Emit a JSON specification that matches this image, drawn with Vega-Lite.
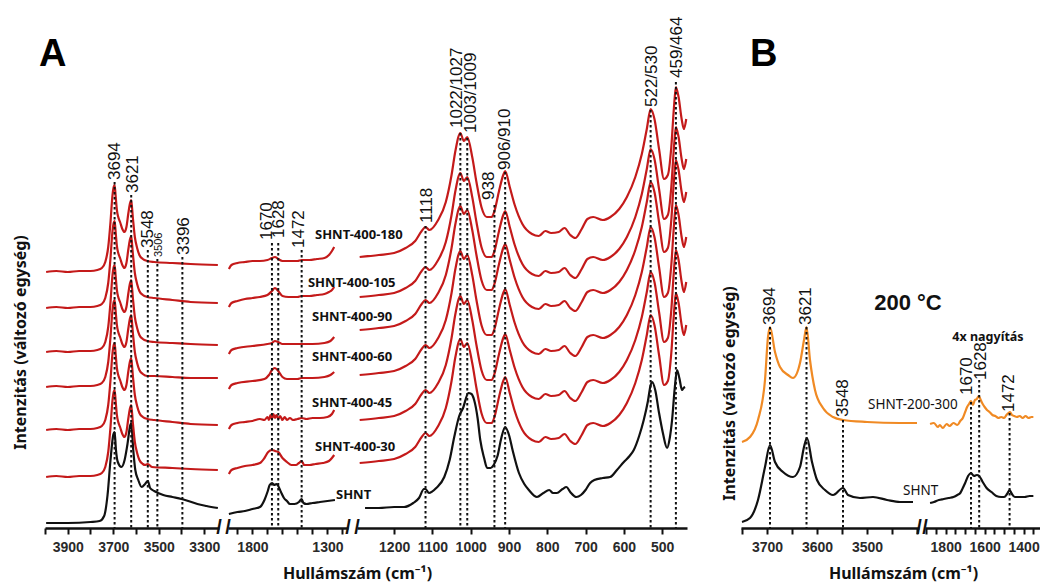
{
  "$schema": "https://vega.github.io/schema/vega-lite/v6.json",
  "background": "white",
  "padding": {"left": 12, "top": 0, "right": 0, "bottom": 2},
  "spacing": 30,
  "config": {
    "view": {"stroke": null},
    "axis": {
      "grid": false,
      "domainColor": "#111111",
      "domainWidth": 2.5,
      "tickColor": "#111111",
      "tickWidth": 2,
      "tickSize": 6,
      "labelFont": "Liberation Sans Narrow, Liberation Sans, Arial",
      "labelFontSize": 14,
      "labelFontWeight": "bold",
      "labelColor": "#2a2a2a",
      "labelPadding": 6,
      "titleFont": "Noto Sans",
      "titleFontSize": 16,
      "titleFontWeight": "bold",
      "titleColor": "#111111"
    }
  },
  "datasets": {
    "A1": [
      {"s":"SHNT","wn":3995,"v":5},{"s":"SHNT","wn":3900,"v":5},{"s":"SHNT","wn":3800,"v":6},{"s":"SHNT","wn":3760,"v":7},{"s":"SHNT","wn":3740,"v":12},{"s":"SHNT","wn":3725,"v":33},{"s":"SHNT","wn":3712,"v":68},{"s":"SHNT","wn":3700,"v":93},{"s":"SHNT","wn":3694,"v":96},{"s":"SHNT","wn":3688,"v":78},{"s":"SHNT","wn":3680,"v":66},{"s":"SHNT","wn":3664,"v":61},{"s":"SHNT","wn":3650,"v":68},{"s":"SHNT","wn":3638,"v":83},{"s":"SHNT","wn":3625,"v":103},{"s":"SHNT","wn":3621,"v":105},{"s":"SHNT","wn":3612,"v":78},{"s":"SHNT","wn":3603,"v":58},{"s":"SHNT","wn":3590,"v":48},{"s":"SHNT","wn":3575,"v":41},{"s":"SHNT","wn":3560,"v":44},{"s":"SHNT","wn":3548,"v":47},{"s":"SHNT","wn":3538,"v":40},{"s":"SHNT","wn":3520,"v":37},{"s":"SHNT","wn":3480,"v":33},{"s":"SHNT","wn":3440,"v":31},{"s":"SHNT","wn":3400,"v":29},{"s":"SHNT","wn":3370,"v":27},{"s":"SHNT","wn":3330,"v":24},{"s":"SHNT","wn":3290,"v":22},{"s":"SHNT","wn":3240,"v":20},

      {"s":"SHNT-400-180","wn":3995,"v":256},{"s":"SHNT-400-180","wn":3950,"v":257},{"s":"SHNT-400-180","wn":3900,"v":256},{"s":"SHNT-400-180","wn":3850,"v":257},{"s":"SHNT-400-180","wn":3800,"v":257},{"s":"SHNT-400-180","wn":3770,"v":258},{"s":"SHNT-400-180","wn":3750,"v":260},{"s":"SHNT-400-180","wn":3735,"v":266},{"s":"SHNT-400-180","wn":3722,"v":281},{"s":"SHNT-400-180","wn":3712,"v":306},{"s":"SHNT-400-180","wn":3704,"v":331},{"s":"SHNT-400-180","wn":3698,"v":341},{"s":"SHNT-400-180","wn":3694,"v":343},{"s":"SHNT-400-180","wn":3689,"v":331},{"s":"SHNT-400-180","wn":3684,"v":318},{"s":"SHNT-400-180","wn":3678,"v":311},{"s":"SHNT-400-180","wn":3670,"v":306},{"s":"SHNT-400-180","wn":3660,"v":299},{"s":"SHNT-400-180","wn":3651,"v":296},{"s":"SHNT-400-180","wn":3642,"v":301},{"s":"SHNT-400-180","wn":3634,"v":314},{"s":"SHNT-400-180","wn":3627,"v":324},{"s":"SHNT-400-180","wn":3621,"v":328},{"s":"SHNT-400-180","wn":3614,"v":311},{"s":"SHNT-400-180","wn":3605,"v":291},{"s":"SHNT-400-180","wn":3595,"v":280},{"s":"SHNT-400-180","wn":3585,"v":273},{"s":"SHNT-400-180","wn":3570,"v":269},{"s":"SHNT-400-180","wn":3550,"v":267},{"s":"SHNT-400-180","wn":3520,"v":266},{"s":"SHNT-400-180","wn":3440,"v":265},{"s":"SHNT-400-180","wn":3360,"v":264},{"s":"SHNT-400-180","wn":3240,"v":263},

      {"s":"SHNT-400-105","wn":3995,"v":220},{"s":"SHNT-400-105","wn":3950,"v":221},{"s":"SHNT-400-105","wn":3900,"v":220},{"s":"SHNT-400-105","wn":3850,"v":221},{"s":"SHNT-400-105","wn":3800,"v":221},{"s":"SHNT-400-105","wn":3770,"v":222},{"s":"SHNT-400-105","wn":3750,"v":224},{"s":"SHNT-400-105","wn":3735,"v":230},{"s":"SHNT-400-105","wn":3722,"v":245},{"s":"SHNT-400-105","wn":3712,"v":270},{"s":"SHNT-400-105","wn":3704,"v":295},{"s":"SHNT-400-105","wn":3698,"v":305},{"s":"SHNT-400-105","wn":3694,"v":307},{"s":"SHNT-400-105","wn":3689,"v":295},{"s":"SHNT-400-105","wn":3684,"v":282},{"s":"SHNT-400-105","wn":3678,"v":275},{"s":"SHNT-400-105","wn":3670,"v":270},{"s":"SHNT-400-105","wn":3660,"v":263},{"s":"SHNT-400-105","wn":3651,"v":260},{"s":"SHNT-400-105","wn":3642,"v":265},{"s":"SHNT-400-105","wn":3634,"v":278},{"s":"SHNT-400-105","wn":3627,"v":288},{"s":"SHNT-400-105","wn":3621,"v":292},{"s":"SHNT-400-105","wn":3614,"v":275},{"s":"SHNT-400-105","wn":3605,"v":255},{"s":"SHNT-400-105","wn":3595,"v":244},{"s":"SHNT-400-105","wn":3585,"v":237},{"s":"SHNT-400-105","wn":3570,"v":233},{"s":"SHNT-400-105","wn":3550,"v":231},{"s":"SHNT-400-105","wn":3520,"v":230},{"s":"SHNT-400-105","wn":3440,"v":228},{"s":"SHNT-400-105","wn":3360,"v":226},{"s":"SHNT-400-105","wn":3240,"v":225},

      {"s":"SHNT-400-90","wn":3995,"v":176},{"s":"SHNT-400-90","wn":3950,"v":177},{"s":"SHNT-400-90","wn":3900,"v":176},{"s":"SHNT-400-90","wn":3850,"v":177},{"s":"SHNT-400-90","wn":3800,"v":177},{"s":"SHNT-400-90","wn":3770,"v":178},{"s":"SHNT-400-90","wn":3750,"v":180},{"s":"SHNT-400-90","wn":3735,"v":186},{"s":"SHNT-400-90","wn":3722,"v":201},{"s":"SHNT-400-90","wn":3712,"v":226},{"s":"SHNT-400-90","wn":3704,"v":251},{"s":"SHNT-400-90","wn":3698,"v":261},{"s":"SHNT-400-90","wn":3694,"v":263},{"s":"SHNT-400-90","wn":3689,"v":251},{"s":"SHNT-400-90","wn":3684,"v":238},{"s":"SHNT-400-90","wn":3678,"v":231},{"s":"SHNT-400-90","wn":3670,"v":226},{"s":"SHNT-400-90","wn":3660,"v":219},{"s":"SHNT-400-90","wn":3651,"v":216},{"s":"SHNT-400-90","wn":3642,"v":221},{"s":"SHNT-400-90","wn":3634,"v":234},{"s":"SHNT-400-90","wn":3627,"v":244},{"s":"SHNT-400-90","wn":3621,"v":248},{"s":"SHNT-400-90","wn":3614,"v":231},{"s":"SHNT-400-90","wn":3605,"v":211},{"s":"SHNT-400-90","wn":3595,"v":200},{"s":"SHNT-400-90","wn":3585,"v":193},{"s":"SHNT-400-90","wn":3570,"v":189},{"s":"SHNT-400-90","wn":3550,"v":187},{"s":"SHNT-400-90","wn":3520,"v":186},{"s":"SHNT-400-90","wn":3440,"v":185},{"s":"SHNT-400-90","wn":3360,"v":184},{"s":"SHNT-400-90","wn":3240,"v":183},

      {"s":"SHNT-400-60","wn":3995,"v":141},{"s":"SHNT-400-60","wn":3950,"v":142},{"s":"SHNT-400-60","wn":3900,"v":141},{"s":"SHNT-400-60","wn":3850,"v":142},{"s":"SHNT-400-60","wn":3800,"v":142},{"s":"SHNT-400-60","wn":3770,"v":143},{"s":"SHNT-400-60","wn":3750,"v":145},{"s":"SHNT-400-60","wn":3735,"v":151},{"s":"SHNT-400-60","wn":3722,"v":166},{"s":"SHNT-400-60","wn":3712,"v":191},{"s":"SHNT-400-60","wn":3704,"v":216},{"s":"SHNT-400-60","wn":3698,"v":226},{"s":"SHNT-400-60","wn":3694,"v":228},{"s":"SHNT-400-60","wn":3689,"v":216},{"s":"SHNT-400-60","wn":3684,"v":203},{"s":"SHNT-400-60","wn":3678,"v":196},{"s":"SHNT-400-60","wn":3670,"v":191},{"s":"SHNT-400-60","wn":3660,"v":184},{"s":"SHNT-400-60","wn":3651,"v":181},{"s":"SHNT-400-60","wn":3642,"v":186},{"s":"SHNT-400-60","wn":3634,"v":199},{"s":"SHNT-400-60","wn":3627,"v":209},{"s":"SHNT-400-60","wn":3621,"v":213},{"s":"SHNT-400-60","wn":3614,"v":196},{"s":"SHNT-400-60","wn":3605,"v":176},{"s":"SHNT-400-60","wn":3595,"v":165},{"s":"SHNT-400-60","wn":3585,"v":158},{"s":"SHNT-400-60","wn":3570,"v":154},{"s":"SHNT-400-60","wn":3550,"v":152},{"s":"SHNT-400-60","wn":3520,"v":152},{"s":"SHNT-400-60","wn":3440,"v":151},{"s":"SHNT-400-60","wn":3360,"v":150},{"s":"SHNT-400-60","wn":3240,"v":150},

      {"s":"SHNT-400-45","wn":3995,"v":98},{"s":"SHNT-400-45","wn":3950,"v":99},{"s":"SHNT-400-45","wn":3900,"v":98},{"s":"SHNT-400-45","wn":3850,"v":99},{"s":"SHNT-400-45","wn":3800,"v":99},{"s":"SHNT-400-45","wn":3770,"v":100},{"s":"SHNT-400-45","wn":3750,"v":102},{"s":"SHNT-400-45","wn":3735,"v":108},{"s":"SHNT-400-45","wn":3722,"v":123},{"s":"SHNT-400-45","wn":3712,"v":148},{"s":"SHNT-400-45","wn":3704,"v":173},{"s":"SHNT-400-45","wn":3698,"v":183},{"s":"SHNT-400-45","wn":3694,"v":185},{"s":"SHNT-400-45","wn":3689,"v":173},{"s":"SHNT-400-45","wn":3684,"v":160},{"s":"SHNT-400-45","wn":3678,"v":153},{"s":"SHNT-400-45","wn":3670,"v":148},{"s":"SHNT-400-45","wn":3660,"v":141},{"s":"SHNT-400-45","wn":3651,"v":138},{"s":"SHNT-400-45","wn":3642,"v":143},{"s":"SHNT-400-45","wn":3634,"v":156},{"s":"SHNT-400-45","wn":3627,"v":166},{"s":"SHNT-400-45","wn":3621,"v":170},{"s":"SHNT-400-45","wn":3614,"v":153},{"s":"SHNT-400-45","wn":3605,"v":133},{"s":"SHNT-400-45","wn":3595,"v":122},{"s":"SHNT-400-45","wn":3585,"v":115},{"s":"SHNT-400-45","wn":3570,"v":111},{"s":"SHNT-400-45","wn":3550,"v":109},{"s":"SHNT-400-45","wn":3520,"v":108},{"s":"SHNT-400-45","wn":3440,"v":106},{"s":"SHNT-400-45","wn":3360,"v":104},{"s":"SHNT-400-45","wn":3240,"v":103},

      {"s":"SHNT-400-30","wn":3995,"v":51},{"s":"SHNT-400-30","wn":3950,"v":52},{"s":"SHNT-400-30","wn":3900,"v":51},{"s":"SHNT-400-30","wn":3850,"v":52},{"s":"SHNT-400-30","wn":3800,"v":52},{"s":"SHNT-400-30","wn":3770,"v":53},{"s":"SHNT-400-30","wn":3750,"v":55},{"s":"SHNT-400-30","wn":3735,"v":61},{"s":"SHNT-400-30","wn":3722,"v":76},{"s":"SHNT-400-30","wn":3712,"v":101},{"s":"SHNT-400-30","wn":3704,"v":126},{"s":"SHNT-400-30","wn":3698,"v":136},{"s":"SHNT-400-30","wn":3694,"v":138},{"s":"SHNT-400-30","wn":3689,"v":126},{"s":"SHNT-400-30","wn":3684,"v":113},{"s":"SHNT-400-30","wn":3678,"v":106},{"s":"SHNT-400-30","wn":3670,"v":101},{"s":"SHNT-400-30","wn":3660,"v":94},{"s":"SHNT-400-30","wn":3651,"v":91},{"s":"SHNT-400-30","wn":3642,"v":96},{"s":"SHNT-400-30","wn":3634,"v":109},{"s":"SHNT-400-30","wn":3627,"v":119},{"s":"SHNT-400-30","wn":3621,"v":123},{"s":"SHNT-400-30","wn":3614,"v":106},{"s":"SHNT-400-30","wn":3605,"v":86},{"s":"SHNT-400-30","wn":3595,"v":75},{"s":"SHNT-400-30","wn":3585,"v":68},{"s":"SHNT-400-30","wn":3570,"v":64},{"s":"SHNT-400-30","wn":3560,"v":63},{"s":"SHNT-400-30","wn":3548,"v":64},{"s":"SHNT-400-30","wn":3530,"v":61},{"s":"SHNT-400-30","wn":3440,"v":60},{"s":"SHNT-400-30","wn":3360,"v":59},{"s":"SHNT-400-30","wn":3240,"v":58}
    ],
    "A2": [
      {"s":"SHNT","wn":1957,"v":14},{"s":"SHNT","wn":1900,"v":16},{"s":"SHNT","wn":1850,"v":17},{"s":"SHNT","wn":1800,"v":19},{"s":"SHNT","wn":1750,"v":21},{"s":"SHNT","wn":1720,"v":28},{"s":"SHNT","wn":1700,"v":36},{"s":"SHNT","wn":1685,"v":43},{"s":"SHNT","wn":1670,"v":45},{"s":"SHNT","wn":1655,"v":43},{"s":"SHNT","wn":1640,"v":44},{"s":"SHNT","wn":1628,"v":42},{"s":"SHNT","wn":1610,"v":36},{"s":"SHNT","wn":1590,"v":30},{"s":"SHNT","wn":1570,"v":27},{"s":"SHNT","wn":1550,"v":24},{"s":"SHNT","wn":1520,"v":24},{"s":"SHNT","wn":1490,"v":26},{"s":"SHNT","wn":1472,"v":29},{"s":"SHNT","wn":1460,"v":25},{"s":"SHNT","wn":1440,"v":24},{"s":"SHNT","wn":1400,"v":25},{"s":"SHNT","wn":1350,"v":26},{"s":"SHNT","wn":1300,"v":27},{"s":"SHNT","wn":1250,"v":28},

      {"s":"SHNT-400-180","wn":1957,"v":259},{"s":"SHNT-400-180","wn":1940,"v":263},{"s":"SHNT-400-180","wn":1900,"v":265},{"s":"SHNT-400-180","wn":1850,"v":266},{"s":"SHNT-400-180","wn":1800,"v":267},{"s":"SHNT-400-180","wn":1750,"v":267},{"s":"SHNT-400-180","wn":1700,"v":268},{"s":"SHNT-400-180","wn":1670,"v":270},{"s":"SHNT-400-180","wn":1650,"v":271},{"s":"SHNT-400-180","wn":1628,"v":269},{"s":"SHNT-400-180","wn":1600,"v":267},{"s":"SHNT-400-180","wn":1550,"v":267},{"s":"SHNT-400-180","wn":1500,"v":267},{"s":"SHNT-400-180","wn":1472,"v":268},{"s":"SHNT-400-180","wn":1420,"v":268},{"s":"SHNT-400-180","wn":1370,"v":269},{"s":"SHNT-400-180","wn":1320,"v":270},{"s":"SHNT-400-180","wn":1290,"v":273},{"s":"SHNT-400-180","wn":1270,"v":277},{"s":"SHNT-400-180","wn":1255,"v":281},

      {"s":"SHNT-400-105","wn":1957,"v":221},{"s":"SHNT-400-105","wn":1940,"v":225},{"s":"SHNT-400-105","wn":1900,"v":227},{"s":"SHNT-400-105","wn":1850,"v":229},{"s":"SHNT-400-105","wn":1800,"v":230},{"s":"SHNT-400-105","wn":1750,"v":231},{"s":"SHNT-400-105","wn":1700,"v":233},{"s":"SHNT-400-105","wn":1670,"v":237},{"s":"SHNT-400-105","wn":1650,"v":240},{"s":"SHNT-400-105","wn":1628,"v":237},{"s":"SHNT-400-105","wn":1600,"v":232},{"s":"SHNT-400-105","wn":1560,"v":231},{"s":"SHNT-400-105","wn":1500,"v":231},{"s":"SHNT-400-105","wn":1472,"v":232},{"s":"SHNT-400-105","wn":1420,"v":232},{"s":"SHNT-400-105","wn":1370,"v":233},{"s":"SHNT-400-105","wn":1320,"v":234},{"s":"SHNT-400-105","wn":1290,"v":236},{"s":"SHNT-400-105","wn":1270,"v":238},{"s":"SHNT-400-105","wn":1255,"v":241},

      {"s":"SHNT-400-90","wn":1957,"v":174},{"s":"SHNT-400-90","wn":1940,"v":178},{"s":"SHNT-400-90","wn":1900,"v":180},{"s":"SHNT-400-90","wn":1800,"v":182},{"s":"SHNT-400-90","wn":1700,"v":184},{"s":"SHNT-400-90","wn":1670,"v":185},{"s":"SHNT-400-90","wn":1650,"v":187},{"s":"SHNT-400-90","wn":1628,"v":186},{"s":"SHNT-400-90","wn":1600,"v":184},{"s":"SHNT-400-90","wn":1500,"v":184},{"s":"SHNT-400-90","wn":1400,"v":184},{"s":"SHNT-400-90","wn":1320,"v":185},{"s":"SHNT-400-90","wn":1280,"v":187},{"s":"SHNT-400-90","wn":1255,"v":191},

      {"s":"SHNT-400-60","wn":1957,"v":139},{"s":"SHNT-400-60","wn":1940,"v":143},{"s":"SHNT-400-60","wn":1900,"v":145},{"s":"SHNT-400-60","wn":1800,"v":147},{"s":"SHNT-400-60","wn":1720,"v":149},{"s":"SHNT-400-60","wn":1690,"v":153},{"s":"SHNT-400-60","wn":1670,"v":158},{"s":"SHNT-400-60","wn":1650,"v":160},{"s":"SHNT-400-60","wn":1628,"v":157},{"s":"SHNT-400-60","wn":1600,"v":151},{"s":"SHNT-400-60","wn":1570,"v":149},{"s":"SHNT-400-60","wn":1500,"v":149},{"s":"SHNT-400-60","wn":1472,"v":150},{"s":"SHNT-400-60","wn":1400,"v":150},{"s":"SHNT-400-60","wn":1320,"v":151},{"s":"SHNT-400-60","wn":1280,"v":153},{"s":"SHNT-400-60","wn":1255,"v":156},

      {"s":"SHNT-400-45","wn":1957,"v":99},{"s":"SHNT-400-45","wn":1940,"v":103},{"s":"SHNT-400-45","wn":1900,"v":105},{"s":"SHNT-400-45","wn":1850,"v":106},{"s":"SHNT-400-45","wn":1800,"v":107},{"s":"SHNT-400-45","wn":1750,"v":109},{"s":"SHNT-400-45","wn":1720,"v":108},{"s":"SHNT-400-45","wn":1700,"v":111},{"s":"SHNT-400-45","wn":1690,"v":108},{"s":"SHNT-400-45","wn":1680,"v":113},{"s":"SHNT-400-45","wn":1670,"v":109},{"s":"SHNT-400-45","wn":1660,"v":114},{"s":"SHNT-400-45","wn":1650,"v":110},{"s":"SHNT-400-45","wn":1640,"v":113},{"s":"SHNT-400-45","wn":1628,"v":109},{"s":"SHNT-400-45","wn":1615,"v":112},{"s":"SHNT-400-45","wn":1600,"v":108},{"s":"SHNT-400-45","wn":1585,"v":111},{"s":"SHNT-400-45","wn":1570,"v":108},{"s":"SHNT-400-45","wn":1550,"v":110},{"s":"SHNT-400-45","wn":1530,"v":108},{"s":"SHNT-400-45","wn":1500,"v":109},{"s":"SHNT-400-45","wn":1472,"v":110},{"s":"SHNT-400-45","wn":1440,"v":109},{"s":"SHNT-400-45","wn":1400,"v":110},{"s":"SHNT-400-45","wn":1350,"v":110},{"s":"SHNT-400-45","wn":1300,"v":111},{"s":"SHNT-400-45","wn":1270,"v":114},{"s":"SHNT-400-45","wn":1255,"v":118},

      {"s":"SHNT-400-30","wn":1957,"v":54},{"s":"SHNT-400-30","wn":1940,"v":58},{"s":"SHNT-400-30","wn":1900,"v":60},{"s":"SHNT-400-30","wn":1850,"v":62},{"s":"SHNT-400-30","wn":1800,"v":63},{"s":"SHNT-400-30","wn":1750,"v":65},{"s":"SHNT-400-30","wn":1720,"v":70},{"s":"SHNT-400-30","wn":1695,"v":76},{"s":"SHNT-400-30","wn":1670,"v":78},{"s":"SHNT-400-30","wn":1650,"v":77},{"s":"SHNT-400-30","wn":1628,"v":76},{"s":"SHNT-400-30","wn":1600,"v":70},{"s":"SHNT-400-30","wn":1570,"v":66},{"s":"SHNT-400-30","wn":1540,"v":63},{"s":"SHNT-400-30","wn":1510,"v":63},{"s":"SHNT-400-30","wn":1490,"v":65},{"s":"SHNT-400-30","wn":1472,"v":67},{"s":"SHNT-400-30","wn":1455,"v":63},{"s":"SHNT-400-30","wn":1420,"v":63},{"s":"SHNT-400-30","wn":1380,"v":64},{"s":"SHNT-400-30","wn":1330,"v":65},{"s":"SHNT-400-30","wn":1290,"v":67},{"s":"SHNT-400-30","wn":1270,"v":70},{"s":"SHNT-400-30","wn":1255,"v":73}
    ],
    "A3": [
      {"s":"SHNT","wn":1276,"v":20},{"s":"SHNT","wn":1240,"v":20},{"s":"SHNT","wn":1200,"v":21},{"s":"SHNT","wn":1174,"v":21},{"s":"SHNT","wn":1150,"v":25},{"s":"SHNT","wn":1135,"v":30},{"s":"SHNT","wn":1122,"v":39},{"s":"SHNT","wn":1118,"v":39},{"s":"SHNT","wn":1109,"v":35},{"s":"SHNT","wn":1090,"v":40},{"s":"SHNT","wn":1069,"v":51},{"s":"SHNT","wn":1055,"v":68},{"s":"SHNT","wn":1043,"v":91},{"s":"SHNT","wn":1030,"v":112},{"s":"SHNT","wn":1020,"v":120},{"s":"SHNT","wn":1006,"v":135},{"s":"SHNT","wn":998,"v":134},{"s":"SHNT","wn":991,"v":128},{"s":"SHNT","wn":982,"v":110},{"s":"SHNT","wn":975,"v":88},{"s":"SHNT","wn":965,"v":70},{"s":"SHNT","wn":957,"v":60},{"s":"SHNT","wn":948,"v":60},{"s":"SHNT","wn":940,"v":63},{"s":"SHNT","wn":930,"v":72},{"s":"SHNT","wn":920,"v":90},{"s":"SHNT","wn":910,"v":101},{"s":"SHNT","wn":900,"v":93},{"s":"SHNT","wn":890,"v":77},{"s":"SHNT","wn":874,"v":55},{"s":"SHNT","wn":860,"v":44},{"s":"SHNT","wn":848,"v":38},{"s":"SHNT","wn":827,"v":31},{"s":"SHNT","wn":810,"v":35},{"s":"SHNT","wn":795,"v":38},{"s":"SHNT","wn":785,"v":35},{"s":"SHNT","wn":775,"v":35},{"s":"SHNT","wn":760,"v":39},{"s":"SHNT","wn":750,"v":41},{"s":"SHNT","wn":740,"v":36},{"s":"SHNT","wn":724,"v":31},{"s":"SHNT","wn":712,"v":33},{"s":"SHNT","wn":700,"v":38},{"s":"SHNT","wn":688,"v":45},{"s":"SHNT","wn":677,"v":48},{"s":"SHNT","wn":655,"v":50},{"s":"SHNT","wn":636,"v":51},{"s":"SHNT","wn":618,"v":58},{"s":"SHNT","wn":600,"v":66},{"s":"SHNT","wn":585,"v":72},{"s":"SHNT","wn":574,"v":78},{"s":"SHNT","wn":560,"v":92},{"s":"SHNT","wn":548,"v":108},{"s":"SHNT","wn":537,"v":127},{"s":"SHNT","wn":530,"v":143},{"s":"SHNT","wn":526,"v":146},{"s":"SHNT","wn":518,"v":138},{"s":"SHNT","wn":508,"v":115},{"s":"SHNT","wn":498,"v":95},{"s":"SHNT","wn":487,"v":80},{"s":"SHNT","wn":480,"v":90},{"s":"SHNT","wn":474,"v":108},{"s":"SHNT","wn":467,"v":140},{"s":"SHNT","wn":461,"v":158},{"s":"SHNT","wn":455,"v":150},{"s":"SHNT","wn":448,"v":138},{"s":"SHNT","wn":444,"v":140},{"s":"SHNT","wn":440,"v":141},

      {"s":"SHNT-400-180","wn":1290,"v":271},{"s":"SHNT-400-180","wn":1240,"v":273},{"s":"SHNT-400-180","wn":1200,"v":275},{"s":"SHNT-400-180","wn":1170,"v":280},{"s":"SHNT-400-180","wn":1145,"v":287},{"s":"SHNT-400-180","wn":1128,"v":297},{"s":"SHNT-400-180","wn":1118,"v":301},{"s":"SHNT-400-180","wn":1108,"v":298},{"s":"SHNT-400-180","wn":1085,"v":308},{"s":"SHNT-400-180","wn":1065,"v":326},{"s":"SHNT-400-180","wn":1050,"v":353},{"s":"SHNT-400-180","wn":1040,"v":377},{"s":"SHNT-400-180","wn":1027,"v":395},{"s":"SHNT-400-180","wn":1018,"v":387},{"s":"SHNT-400-180","wn":1009,"v":391},{"s":"SHNT-400-180","wn":996,"v":371},{"s":"SHNT-400-180","wn":985,"v":346},{"s":"SHNT-400-180","wn":972,"v":321},{"s":"SHNT-400-180","wn":958,"v":311},{"s":"SHNT-400-180","wn":945,"v":311},{"s":"SHNT-400-180","wn":938,"v":317},{"s":"SHNT-400-180","wn":926,"v":337},{"s":"SHNT-400-180","wn":915,"v":353},{"s":"SHNT-400-180","wn":910,"v":357},{"s":"SHNT-400-180","wn":898,"v":341},{"s":"SHNT-400-180","wn":885,"v":323},{"s":"SHNT-400-180","wn":865,"v":304},{"s":"SHNT-400-180","wn":840,"v":294},{"s":"SHNT-400-180","wn":822,"v":292},{"s":"SHNT-400-180","wn":805,"v":297},{"s":"SHNT-400-180","wn":790,"v":295},{"s":"SHNT-400-180","wn":770,"v":296},{"s":"SHNT-400-180","wn":755,"v":300},{"s":"SHNT-400-180","wn":740,"v":293},{"s":"SHNT-400-180","wn":727,"v":290},{"s":"SHNT-400-180","wn":710,"v":299},{"s":"SHNT-400-180","wn":695,"v":309},{"s":"SHNT-400-180","wn":680,"v":311},{"s":"SHNT-400-180","wn":655,"v":308},{"s":"SHNT-400-180","wn":635,"v":311},{"s":"SHNT-400-180","wn":612,"v":319},{"s":"SHNT-400-180","wn":592,"v":331},{"s":"SHNT-400-180","wn":570,"v":351},{"s":"SHNT-400-180","wn":553,"v":374},{"s":"SHNT-400-180","wn":540,"v":399},{"s":"SHNT-400-180","wn":530,"v":419},{"s":"SHNT-400-180","wn":520,"v":409},{"s":"SHNT-400-180","wn":508,"v":379},{"s":"SHNT-400-180","wn":495,"v":349},{"s":"SHNT-400-180","wn":485,"v":353},{"s":"SHNT-400-180","wn":476,"v":381},{"s":"SHNT-400-180","wn":469,"v":421},{"s":"SHNT-400-180","wn":464,"v":441},{"s":"SHNT-400-180","wn":457,"v":431},{"s":"SHNT-400-180","wn":449,"v":409},{"s":"SHNT-400-180","wn":443,"v":399},{"s":"SHNT-400-180","wn":437,"v":409},

      {"s":"SHNT-400-105","wn":1290,"v":231},{"s":"SHNT-400-105","wn":1240,"v":233},{"s":"SHNT-400-105","wn":1200,"v":235},{"s":"SHNT-400-105","wn":1170,"v":240},{"s":"SHNT-400-105","wn":1145,"v":247},{"s":"SHNT-400-105","wn":1128,"v":257},{"s":"SHNT-400-105","wn":1118,"v":261},{"s":"SHNT-400-105","wn":1108,"v":258},{"s":"SHNT-400-105","wn":1085,"v":268},{"s":"SHNT-400-105","wn":1065,"v":286},{"s":"SHNT-400-105","wn":1050,"v":313},{"s":"SHNT-400-105","wn":1040,"v":337},{"s":"SHNT-400-105","wn":1027,"v":355},{"s":"SHNT-400-105","wn":1018,"v":347},{"s":"SHNT-400-105","wn":1009,"v":351},{"s":"SHNT-400-105","wn":996,"v":331},{"s":"SHNT-400-105","wn":985,"v":306},{"s":"SHNT-400-105","wn":972,"v":281},{"s":"SHNT-400-105","wn":958,"v":271},{"s":"SHNT-400-105","wn":945,"v":271},{"s":"SHNT-400-105","wn":938,"v":277},{"s":"SHNT-400-105","wn":926,"v":297},{"s":"SHNT-400-105","wn":915,"v":313},{"s":"SHNT-400-105","wn":910,"v":317},{"s":"SHNT-400-105","wn":898,"v":301},{"s":"SHNT-400-105","wn":885,"v":283},{"s":"SHNT-400-105","wn":865,"v":264},{"s":"SHNT-400-105","wn":840,"v":254},{"s":"SHNT-400-105","wn":822,"v":252},{"s":"SHNT-400-105","wn":805,"v":257},{"s":"SHNT-400-105","wn":790,"v":255},{"s":"SHNT-400-105","wn":770,"v":256},{"s":"SHNT-400-105","wn":755,"v":260},{"s":"SHNT-400-105","wn":740,"v":253},{"s":"SHNT-400-105","wn":727,"v":250},{"s":"SHNT-400-105","wn":710,"v":259},{"s":"SHNT-400-105","wn":695,"v":269},{"s":"SHNT-400-105","wn":680,"v":271},{"s":"SHNT-400-105","wn":655,"v":268},{"s":"SHNT-400-105","wn":635,"v":271},{"s":"SHNT-400-105","wn":612,"v":279},{"s":"SHNT-400-105","wn":592,"v":291},{"s":"SHNT-400-105","wn":570,"v":311},{"s":"SHNT-400-105","wn":553,"v":334},{"s":"SHNT-400-105","wn":540,"v":359},{"s":"SHNT-400-105","wn":530,"v":379},{"s":"SHNT-400-105","wn":520,"v":369},{"s":"SHNT-400-105","wn":508,"v":339},{"s":"SHNT-400-105","wn":495,"v":309},{"s":"SHNT-400-105","wn":485,"v":313},{"s":"SHNT-400-105","wn":476,"v":341},{"s":"SHNT-400-105","wn":469,"v":381},{"s":"SHNT-400-105","wn":464,"v":401},{"s":"SHNT-400-105","wn":457,"v":391},{"s":"SHNT-400-105","wn":449,"v":369},{"s":"SHNT-400-105","wn":443,"v":359},{"s":"SHNT-400-105","wn":437,"v":369},

      {"s":"SHNT-400-90","wn":1290,"v":198},{"s":"SHNT-400-90","wn":1240,"v":200},{"s":"SHNT-400-90","wn":1200,"v":202},{"s":"SHNT-400-90","wn":1170,"v":207},{"s":"SHNT-400-90","wn":1145,"v":214},{"s":"SHNT-400-90","wn":1128,"v":224},{"s":"SHNT-400-90","wn":1118,"v":228},{"s":"SHNT-400-90","wn":1108,"v":225},{"s":"SHNT-400-90","wn":1085,"v":235},{"s":"SHNT-400-90","wn":1065,"v":253},{"s":"SHNT-400-90","wn":1050,"v":280},{"s":"SHNT-400-90","wn":1040,"v":304},{"s":"SHNT-400-90","wn":1027,"v":322},{"s":"SHNT-400-90","wn":1018,"v":314},{"s":"SHNT-400-90","wn":1009,"v":318},{"s":"SHNT-400-90","wn":996,"v":298},{"s":"SHNT-400-90","wn":985,"v":273},{"s":"SHNT-400-90","wn":972,"v":248},{"s":"SHNT-400-90","wn":958,"v":238},{"s":"SHNT-400-90","wn":945,"v":238},{"s":"SHNT-400-90","wn":938,"v":244},{"s":"SHNT-400-90","wn":926,"v":264},{"s":"SHNT-400-90","wn":915,"v":280},{"s":"SHNT-400-90","wn":910,"v":284},{"s":"SHNT-400-90","wn":898,"v":268},{"s":"SHNT-400-90","wn":885,"v":250},{"s":"SHNT-400-90","wn":865,"v":231},{"s":"SHNT-400-90","wn":840,"v":221},{"s":"SHNT-400-90","wn":822,"v":219},{"s":"SHNT-400-90","wn":805,"v":224},{"s":"SHNT-400-90","wn":790,"v":222},{"s":"SHNT-400-90","wn":770,"v":223},{"s":"SHNT-400-90","wn":755,"v":227},{"s":"SHNT-400-90","wn":740,"v":220},{"s":"SHNT-400-90","wn":727,"v":217},{"s":"SHNT-400-90","wn":710,"v":226},{"s":"SHNT-400-90","wn":695,"v":236},{"s":"SHNT-400-90","wn":680,"v":238},{"s":"SHNT-400-90","wn":655,"v":235},{"s":"SHNT-400-90","wn":635,"v":238},{"s":"SHNT-400-90","wn":612,"v":246},{"s":"SHNT-400-90","wn":592,"v":258},{"s":"SHNT-400-90","wn":570,"v":278},{"s":"SHNT-400-90","wn":553,"v":301},{"s":"SHNT-400-90","wn":540,"v":326},{"s":"SHNT-400-90","wn":530,"v":346},{"s":"SHNT-400-90","wn":520,"v":336},{"s":"SHNT-400-90","wn":508,"v":306},{"s":"SHNT-400-90","wn":495,"v":276},{"s":"SHNT-400-90","wn":485,"v":280},{"s":"SHNT-400-90","wn":476,"v":308},{"s":"SHNT-400-90","wn":469,"v":348},{"s":"SHNT-400-90","wn":464,"v":368},{"s":"SHNT-400-90","wn":457,"v":358},{"s":"SHNT-400-90","wn":449,"v":336},{"s":"SHNT-400-90","wn":443,"v":326},{"s":"SHNT-400-90","wn":437,"v":336},

      {"s":"SHNT-400-60","wn":1290,"v":153},{"s":"SHNT-400-60","wn":1240,"v":155},{"s":"SHNT-400-60","wn":1200,"v":157},{"s":"SHNT-400-60","wn":1170,"v":162},{"s":"SHNT-400-60","wn":1145,"v":169},{"s":"SHNT-400-60","wn":1128,"v":179},{"s":"SHNT-400-60","wn":1118,"v":183},{"s":"SHNT-400-60","wn":1108,"v":180},{"s":"SHNT-400-60","wn":1085,"v":190},{"s":"SHNT-400-60","wn":1065,"v":208},{"s":"SHNT-400-60","wn":1050,"v":235},{"s":"SHNT-400-60","wn":1040,"v":259},{"s":"SHNT-400-60","wn":1027,"v":277},{"s":"SHNT-400-60","wn":1018,"v":269},{"s":"SHNT-400-60","wn":1009,"v":273},{"s":"SHNT-400-60","wn":996,"v":253},{"s":"SHNT-400-60","wn":985,"v":228},{"s":"SHNT-400-60","wn":972,"v":203},{"s":"SHNT-400-60","wn":958,"v":193},{"s":"SHNT-400-60","wn":945,"v":193},{"s":"SHNT-400-60","wn":938,"v":199},{"s":"SHNT-400-60","wn":926,"v":219},{"s":"SHNT-400-60","wn":915,"v":235},{"s":"SHNT-400-60","wn":910,"v":239},{"s":"SHNT-400-60","wn":898,"v":223},{"s":"SHNT-400-60","wn":885,"v":205},{"s":"SHNT-400-60","wn":865,"v":186},{"s":"SHNT-400-60","wn":840,"v":176},{"s":"SHNT-400-60","wn":822,"v":174},{"s":"SHNT-400-60","wn":805,"v":179},{"s":"SHNT-400-60","wn":790,"v":177},{"s":"SHNT-400-60","wn":770,"v":178},{"s":"SHNT-400-60","wn":755,"v":182},{"s":"SHNT-400-60","wn":740,"v":175},{"s":"SHNT-400-60","wn":727,"v":172},{"s":"SHNT-400-60","wn":710,"v":181},{"s":"SHNT-400-60","wn":695,"v":191},{"s":"SHNT-400-60","wn":680,"v":193},{"s":"SHNT-400-60","wn":655,"v":190},{"s":"SHNT-400-60","wn":635,"v":193},{"s":"SHNT-400-60","wn":612,"v":201},{"s":"SHNT-400-60","wn":592,"v":213},{"s":"SHNT-400-60","wn":570,"v":233},{"s":"SHNT-400-60","wn":553,"v":256},{"s":"SHNT-400-60","wn":540,"v":281},{"s":"SHNT-400-60","wn":530,"v":301},{"s":"SHNT-400-60","wn":520,"v":291},{"s":"SHNT-400-60","wn":508,"v":261},{"s":"SHNT-400-60","wn":495,"v":231},{"s":"SHNT-400-60","wn":485,"v":235},{"s":"SHNT-400-60","wn":476,"v":263},{"s":"SHNT-400-60","wn":469,"v":303},{"s":"SHNT-400-60","wn":464,"v":323},{"s":"SHNT-400-60","wn":457,"v":313},{"s":"SHNT-400-60","wn":449,"v":291},{"s":"SHNT-400-60","wn":443,"v":281},{"s":"SHNT-400-60","wn":437,"v":291},

      {"s":"SHNT-400-45","wn":1290,"v":108},{"s":"SHNT-400-45","wn":1240,"v":110},{"s":"SHNT-400-45","wn":1200,"v":112},{"s":"SHNT-400-45","wn":1170,"v":117},{"s":"SHNT-400-45","wn":1145,"v":124},{"s":"SHNT-400-45","wn":1128,"v":134},{"s":"SHNT-400-45","wn":1118,"v":138},{"s":"SHNT-400-45","wn":1108,"v":135},{"s":"SHNT-400-45","wn":1085,"v":145},{"s":"SHNT-400-45","wn":1065,"v":163},{"s":"SHNT-400-45","wn":1050,"v":190},{"s":"SHNT-400-45","wn":1040,"v":214},{"s":"SHNT-400-45","wn":1027,"v":232},{"s":"SHNT-400-45","wn":1018,"v":224},{"s":"SHNT-400-45","wn":1009,"v":228},{"s":"SHNT-400-45","wn":996,"v":208},{"s":"SHNT-400-45","wn":985,"v":183},{"s":"SHNT-400-45","wn":972,"v":158},{"s":"SHNT-400-45","wn":958,"v":148},{"s":"SHNT-400-45","wn":945,"v":148},{"s":"SHNT-400-45","wn":938,"v":154},{"s":"SHNT-400-45","wn":926,"v":174},{"s":"SHNT-400-45","wn":915,"v":190},{"s":"SHNT-400-45","wn":910,"v":194},{"s":"SHNT-400-45","wn":898,"v":178},{"s":"SHNT-400-45","wn":885,"v":160},{"s":"SHNT-400-45","wn":865,"v":141},{"s":"SHNT-400-45","wn":840,"v":131},{"s":"SHNT-400-45","wn":822,"v":129},{"s":"SHNT-400-45","wn":805,"v":134},{"s":"SHNT-400-45","wn":790,"v":132},{"s":"SHNT-400-45","wn":770,"v":133},{"s":"SHNT-400-45","wn":755,"v":137},{"s":"SHNT-400-45","wn":740,"v":130},{"s":"SHNT-400-45","wn":727,"v":127},{"s":"SHNT-400-45","wn":710,"v":136},{"s":"SHNT-400-45","wn":695,"v":146},{"s":"SHNT-400-45","wn":680,"v":148},{"s":"SHNT-400-45","wn":655,"v":145},{"s":"SHNT-400-45","wn":635,"v":148},{"s":"SHNT-400-45","wn":612,"v":156},{"s":"SHNT-400-45","wn":592,"v":168},{"s":"SHNT-400-45","wn":570,"v":188},{"s":"SHNT-400-45","wn":553,"v":211},{"s":"SHNT-400-45","wn":540,"v":236},{"s":"SHNT-400-45","wn":530,"v":256},{"s":"SHNT-400-45","wn":520,"v":246},{"s":"SHNT-400-45","wn":508,"v":216},{"s":"SHNT-400-45","wn":495,"v":186},{"s":"SHNT-400-45","wn":485,"v":190},{"s":"SHNT-400-45","wn":476,"v":218},{"s":"SHNT-400-45","wn":469,"v":258},{"s":"SHNT-400-45","wn":464,"v":278},{"s":"SHNT-400-45","wn":457,"v":268},{"s":"SHNT-400-45","wn":449,"v":246},{"s":"SHNT-400-45","wn":443,"v":236},{"s":"SHNT-400-45","wn":437,"v":246},

      {"s":"SHNT-400-30","wn":1290,"v":65},{"s":"SHNT-400-30","wn":1240,"v":67},{"s":"SHNT-400-30","wn":1200,"v":69},{"s":"SHNT-400-30","wn":1170,"v":74},{"s":"SHNT-400-30","wn":1145,"v":81},{"s":"SHNT-400-30","wn":1128,"v":91},{"s":"SHNT-400-30","wn":1118,"v":95},{"s":"SHNT-400-30","wn":1108,"v":92},{"s":"SHNT-400-30","wn":1085,"v":102},{"s":"SHNT-400-30","wn":1065,"v":120},{"s":"SHNT-400-30","wn":1050,"v":147},{"s":"SHNT-400-30","wn":1040,"v":171},{"s":"SHNT-400-30","wn":1027,"v":189},{"s":"SHNT-400-30","wn":1018,"v":181},{"s":"SHNT-400-30","wn":1009,"v":185},{"s":"SHNT-400-30","wn":996,"v":165},{"s":"SHNT-400-30","wn":985,"v":140},{"s":"SHNT-400-30","wn":972,"v":115},{"s":"SHNT-400-30","wn":958,"v":105},{"s":"SHNT-400-30","wn":945,"v":105},{"s":"SHNT-400-30","wn":938,"v":111},{"s":"SHNT-400-30","wn":926,"v":131},{"s":"SHNT-400-30","wn":915,"v":147},{"s":"SHNT-400-30","wn":910,"v":151},{"s":"SHNT-400-30","wn":898,"v":135},{"s":"SHNT-400-30","wn":885,"v":117},{"s":"SHNT-400-30","wn":865,"v":98},{"s":"SHNT-400-30","wn":840,"v":88},{"s":"SHNT-400-30","wn":822,"v":86},{"s":"SHNT-400-30","wn":805,"v":91},{"s":"SHNT-400-30","wn":790,"v":89},{"s":"SHNT-400-30","wn":770,"v":90},{"s":"SHNT-400-30","wn":755,"v":94},{"s":"SHNT-400-30","wn":740,"v":87},{"s":"SHNT-400-30","wn":727,"v":84},{"s":"SHNT-400-30","wn":710,"v":93},{"s":"SHNT-400-30","wn":695,"v":103},{"s":"SHNT-400-30","wn":680,"v":105},{"s":"SHNT-400-30","wn":655,"v":102},{"s":"SHNT-400-30","wn":635,"v":105},{"s":"SHNT-400-30","wn":612,"v":113},{"s":"SHNT-400-30","wn":592,"v":125},{"s":"SHNT-400-30","wn":570,"v":145},{"s":"SHNT-400-30","wn":553,"v":168},{"s":"SHNT-400-30","wn":540,"v":193},{"s":"SHNT-400-30","wn":530,"v":213},{"s":"SHNT-400-30","wn":520,"v":203},{"s":"SHNT-400-30","wn":508,"v":173},{"s":"SHNT-400-30","wn":495,"v":143},{"s":"SHNT-400-30","wn":485,"v":147},{"s":"SHNT-400-30","wn":476,"v":175},{"s":"SHNT-400-30","wn":469,"v":215},{"s":"SHNT-400-30","wn":464,"v":235},{"s":"SHNT-400-30","wn":457,"v":225},{"s":"SHNT-400-30","wn":449,"v":203},{"s":"SHNT-400-30","wn":443,"v":193},{"s":"SHNT-400-30","wn":437,"v":203}
    ],
    "B1": [
      {"s":"SHNT-200-300","wn":3750,"v":86},{"s":"SHNT-200-300","wn":3734,"v":91},{"s":"SHNT-200-300","wn":3718,"v":108},{"s":"SHNT-200-300","wn":3704,"v":148},{"s":"SHNT-200-300","wn":3698,"v":191},{"s":"SHNT-200-300","wn":3694,"v":201},{"s":"SHNT-200-300","wn":3684,"v":176},{"s":"SHNT-200-300","wn":3674,"v":161},{"s":"SHNT-200-300","wn":3658,"v":153},{"s":"SHNT-200-300","wn":3648,"v":150},{"s":"SHNT-200-300","wn":3634,"v":165},{"s":"SHNT-200-300","wn":3626,"v":188},{"s":"SHNT-200-300","wn":3621,"v":201},{"s":"SHNT-200-300","wn":3614,"v":168},{"s":"SHNT-200-300","wn":3604,"v":138},{"s":"SHNT-200-300","wn":3588,"v":120},{"s":"SHNT-200-300","wn":3568,"v":111},{"s":"SHNT-200-300","wn":3548,"v":108},{"s":"SHNT-200-300","wn":3500,"v":106},{"s":"SHNT-200-300","wn":3434,"v":105},{"s":"SHNT-200-300","wn":3400,"v":105},
      {"s":"SHNT","wn":3750,"v":6},{"s":"SHNT","wn":3734,"v":10},{"s":"SHNT","wn":3718,"v":28},{"s":"SHNT","wn":3704,"v":61},{"s":"SHNT","wn":3694,"v":83},{"s":"SHNT","wn":3684,"v":66},{"s":"SHNT","wn":3668,"v":56},{"s":"SHNT","wn":3648,"v":51},{"s":"SHNT","wn":3634,"v":61},{"s":"SHNT","wn":3626,"v":81},{"s":"SHNT","wn":3620,"v":90},{"s":"SHNT","wn":3610,"v":66},{"s":"SHNT","wn":3600,"v":48},{"s":"SHNT","wn":3584,"v":38},{"s":"SHNT","wn":3568,"v":33},{"s":"SHNT","wn":3548,"v":40},{"s":"SHNT","wn":3538,"v":33},{"s":"SHNT","wn":3514,"v":30},{"s":"SHNT","wn":3488,"v":31},{"s":"SHNT","wn":3460,"v":28},{"s":"SHNT","wn":3434,"v":26},{"s":"SHNT","wn":3408,"v":26}
    ],
    "B2": [
      {"s":"SHNT-200-300","wn":1880,"v":104},{"s":"SHNT-200-300","wn":1860,"v":105},{"s":"SHNT-200-300","wn":1840,"v":101},{"s":"SHNT-200-300","wn":1830,"v":103},{"s":"SHNT-200-300","wn":1815,"v":100},{"s":"SHNT-200-300","wn":1795,"v":104},{"s":"SHNT-200-300","wn":1780,"v":102},{"s":"SHNT-200-300","wn":1760,"v":105},{"s":"SHNT-200-300","wn":1740,"v":103},{"s":"SHNT-200-300","wn":1725,"v":107},{"s":"SHNT-200-300","wn":1712,"v":110},{"s":"SHNT-200-300","wn":1700,"v":116},{"s":"SHNT-200-300","wn":1690,"v":121},{"s":"SHNT-200-300","wn":1680,"v":124},{"s":"SHNT-200-300","wn":1670,"v":127},{"s":"SHNT-200-300","wn":1660,"v":123},{"s":"SHNT-200-300","wn":1650,"v":128},{"s":"SHNT-200-300","wn":1640,"v":129},{"s":"SHNT-200-300","wn":1630,"v":132},{"s":"SHNT-200-300","wn":1620,"v":128},{"s":"SHNT-200-300","wn":1610,"v":124},{"s":"SHNT-200-300","wn":1600,"v":121},{"s":"SHNT-200-300","wn":1588,"v":118},{"s":"SHNT-200-300","wn":1575,"v":116},{"s":"SHNT-200-300","wn":1560,"v":113},{"s":"SHNT-200-300","wn":1545,"v":112},{"s":"SHNT-200-300","wn":1530,"v":110},{"s":"SHNT-200-300","wn":1515,"v":111},{"s":"SHNT-200-300","wn":1500,"v":110},{"s":"SHNT-200-300","wn":1488,"v":113},{"s":"SHNT-200-300","wn":1478,"v":115},{"s":"SHNT-200-300","wn":1470,"v":116},{"s":"SHNT-200-300","wn":1460,"v":113},{"s":"SHNT-200-300","wn":1448,"v":112},{"s":"SHNT-200-300","wn":1435,"v":111},{"s":"SHNT-200-300","wn":1420,"v":112},{"s":"SHNT-200-300","wn":1405,"v":110},{"s":"SHNT-200-300","wn":1390,"v":112},{"s":"SHNT-200-300","wn":1375,"v":110},{"s":"SHNT-200-300","wn":1360,"v":111},{"s":"SHNT-200-300","wn":1350,"v":111},
      {"s":"SHNT","wn":1880,"v":25},{"s":"SHNT","wn":1860,"v":26},{"s":"SHNT","wn":1835,"v":28},{"s":"SHNT","wn":1810,"v":29},{"s":"SHNT","wn":1785,"v":30},{"s":"SHNT","wn":1760,"v":31},{"s":"SHNT","wn":1740,"v":33},{"s":"SHNT","wn":1725,"v":35},{"s":"SHNT","wn":1712,"v":40},{"s":"SHNT","wn":1700,"v":45},{"s":"SHNT","wn":1685,"v":52},{"s":"SHNT","wn":1670,"v":55},{"s":"SHNT","wn":1655,"v":52},{"s":"SHNT","wn":1640,"v":53},{"s":"SHNT","wn":1628,"v":52},{"s":"SHNT","wn":1610,"v":46},{"s":"SHNT","wn":1590,"v":40},{"s":"SHNT","wn":1565,"v":36},{"s":"SHNT","wn":1540,"v":32},{"s":"SHNT","wn":1515,"v":31},{"s":"SHNT","wn":1500,"v":31},{"s":"SHNT","wn":1485,"v":34},{"s":"SHNT","wn":1472,"v":38},{"s":"SHNT","wn":1460,"v":34},{"s":"SHNT","wn":1445,"v":31},{"s":"SHNT","wn":1420,"v":31},{"s":"SHNT","wn":1395,"v":31},{"s":"SHNT","wn":1370,"v":32},{"s":"SHNT","wn":1350,"v":32}
    ],
    "rules": [
      {"panel":"A1","wn":3694,"v":346},{"panel":"A1","wn":3621,"v":333},{"panel":"A1","wn":3548,"v":278},{"panel":"A1","wn":3506,"v":269},{"panel":"A1","wn":3396,"v":271},
      {"panel":"A2","wn":1670,"v":285},{"panel":"A2","wn":1628,"v":285},{"panel":"A2","wn":1472,"v":278},
      {"panel":"A3","wn":1118,"v":302},{"panel":"A3","wn":1027,"v":395},{"panel":"A3","wn":1009,"v":390},{"panel":"A3","wn":938,"v":323},{"panel":"A3","wn":910,"v":356},{"panel":"A3","wn":530,"v":418},{"panel":"A3","wn":464,"v":446},
      {"panel":"B1","wn":3694,"v":201},{"panel":"B1","wn":3621,"v":201},{"panel":"B1","wn":3548,"v":108},
      {"panel":"B2","wn":1670,"v":126},{"panel":"B2","wn":1628,"v":148},{"panel":"B2","wn":1472,"v":115}
    ],
    "peaks": [
      {"panel":"A1","t":"3694","wn":3694,"v":348},{"panel":"A1","t":"3621","wn":3615,"v":335},{"panel":"A1","t":"3548","wn":3548,"v":280},{"panel":"A1","t":"3396","wn":3388,"v":273},
      {"panel":"A2","t":"1670","wn":1703,"v":288},{"panel":"A2","t":"1628","wn":1623,"v":290},{"panel":"A2","t":"1472","wn":1490,"v":280},
      {"panel":"A3","t":"1118","wn":1114,"v":305},{"panel":"A3","t":"1022/1027","wn":1036,"v":400},{"panel":"A3","t":"1003/1009","wn":999,"v":395},{"panel":"A3","t":"938","wn":952,"v":328},{"panel":"A3","t":"906/910","wn":910,"v":358},{"panel":"A3","t":"522/530","wn":526,"v":421},{"panel":"A3","t":"459/464","wn":461,"v":450},
      {"panel":"B1","t":"3694","wn":3694,"v":203},{"panel":"B1","t":"3621","wn":3622,"v":203},{"panel":"B1","t":"3548","wn":3548,"v":111},
      {"panel":"B2","t":"1670","wn":1690,"v":133},{"panel":"B2","t":"1628","wn":1619,"v":148},{"panel":"B2","t":"1472","wn":1475,"v":116}
    ],
    "peaksSmall": [
      {"panel":"A1","t":"3506","wn":3500,"v":271}
    ],
    "names": [
      {"panel":"A2","t":"SHNT-400-180","wn":1383,"v":293},
      {"panel":"A2","t":"SHNT-400-105","wn":1430,"v":245},
      {"panel":"A2","t":"SHNT-400-90","wn":1403,"v":211},
      {"panel":"A2","t":"SHNT-400-60","wn":1403,"v":171},
      {"panel":"A2","t":"SHNT-400-45","wn":1403,"v":125},
      {"panel":"A2","t":"SHNT-400-30","wn":1383,"v":81},
      {"panel":"A2","t":"SHNT","wn":1243,"v":33}
    ],
    "letters": [
      {"panel":"A1","t":"A","wn":4026,"v":473},
      {"panel":"B1","t":"B","wn":3734,"v":473}
    ],
    "breaks": [
      {"panel":"A1","t":"/","wn":3235,"v":0},
      {"panel":"A2","t":"/","wn":1963,"v":0},
      {"panel":"A2","t":"/","wn":1163,"v":0},
      {"panel":"A3","t":"/","wn":1297,"v":0},
      {"panel":"B1","t":"/","wn":3396,"v":0},
      {"panel":"B2","t":"/","wn":1906,"v":0}
    ],
    "notesB": [
      {"panel":"B1","t":"SHNT-200-300","wn":3498,"v":123},
      {"panel":"B1","t":"SHNT","wn":3428,"v":37}
    ]
  },
  "hconcat": [
    {
      "bounds": "flush",
      "spacing": 9,
      "hconcat": [
        {
          "width": 174,
          "height": 528,
          "encoding": {
            "x": {"field": "wn", "type": "quantitative", "scale": {"domain": [4000, 3235], "nice": false, "zero": false},
              "axis": {"values": [4000, 3900, 3800, 3700, 3600, 3500, 3400, 3300], "format": "d", "labelExpr": "indexof([3900, 3700, 3500, 3300], datum.value) >= 0 ? datum.label : ''", "title": null}},
            "y": {"field": "v", "type": "quantitative", "scale": {"domain": [0, 528], "nice": false, "zero": false},
              "axis": {"title": "Intenzitás (változó egység)", "domain": false, "ticks": false, "labels": false, "titleX": -17, "titleY": 342}}
          },
          "layer": [
            {"data": {"name": "A1"}, "mark": {"type": "line", "strokeWidth": 2.2, "interpolate": "monotone"},
              "encoding": {"color": {"field": "s", "type": "nominal", "legend": null, "scale": {"domain": ["SHNT", "SHNT-400-30", "SHNT-400-45", "SHNT-400-60", "SHNT-400-90", "SHNT-400-105", "SHNT-400-180", "SHNT-200-300"], "range": ["#111111", "#c41a1a", "#c41a1a", "#c41a1a", "#c41a1a", "#c41a1a", "#c41a1a", "#f08a24"]}}}},
            {"data": {"name": "rules"}, "transform": [{"filter": "datum.panel === 'A1'"}], "mark": {"type": "rule", "strokeDash": [2.5, 2.5], "strokeWidth": 2, "color": "#111111"}, "encoding": {"y2": {"datum": 0}}},
            {"data": {"name": "peaks"}, "transform": [{"filter": "datum.panel === 'A1'"}], "mark": {"type": "text", "angle": 270, "align": "left", "baseline": "middle", "font": "Liberation Sans", "fontSize": 17, "color": "#111111"}, "encoding": {"text": {"field": "t"}}},
            {"data": {"name": "peaksSmall"}, "mark": {"type": "text", "angle": 270, "align": "left", "baseline": "middle", "font": "Liberation Sans", "fontSize": 11, "color": "#111111"}, "encoding": {"text": {"field": "t"}}},
            {"data": {"name": "letters"}, "transform": [{"filter": "datum.panel === 'A1'"}], "mark": {"type": "text", "align": "left", "baseline": "middle", "font": "Liberation Sans", "fontSize": 38, "fontWeight": "bold", "color": "#000000"}, "encoding": {"text": {"field": "t"}}},
            {"data": {"name": "breaks"}, "transform": [{"filter": "datum.panel === 'A1'"}], "mark": {"type": "text", "align": "center", "baseline": "middle", "font": "Liberation Sans", "fontSize": 20, "fontWeight": "bold", "color": "#111111"}, "encoding": {"text": {"field": "t"}}}
          ]
        },
        {
          "width": 120,
          "height": 528,
          "encoding": {
            "x": {"field": "wn", "type": "quantitative", "scale": {"domain": [1963, 1163], "nice": false, "zero": false},
              "axis": {"values": [1900, 1800, 1700, 1600, 1500, 1400, 1300, 1200], "format": "d", "labelExpr": "indexof([1800, 1600, 1300], datum.value) >= 0 ? datum.label : ''", "title": null}},
            "y": {"field": "v", "type": "quantitative", "scale": {"domain": [0, 528], "nice": false, "zero": false}, "axis": null}
          },
          "layer": [
            {"data": {"name": "A2"}, "mark": {"type": "line", "strokeWidth": 2.2, "interpolate": "monotone"},
              "encoding": {"color": {"field": "s", "type": "nominal", "legend": null, "scale": {"domain": ["SHNT", "SHNT-400-30", "SHNT-400-45", "SHNT-400-60", "SHNT-400-90", "SHNT-400-105", "SHNT-400-180", "SHNT-200-300"], "range": ["#111111", "#c41a1a", "#c41a1a", "#c41a1a", "#c41a1a", "#c41a1a", "#c41a1a", "#f08a24"]}}}},
            {"data": {"name": "rules"}, "transform": [{"filter": "datum.panel === 'A2'"}], "mark": {"type": "rule", "strokeDash": [2.5, 2.5], "strokeWidth": 2, "color": "#111111"}, "encoding": {"y2": {"datum": 0}}},
            {"data": {"name": "peaks"}, "transform": [{"filter": "datum.panel === 'A2'"}], "mark": {"type": "text", "angle": 270, "align": "left", "baseline": "middle", "font": "Liberation Sans", "fontSize": 17, "color": "#111111"}, "encoding": {"text": {"field": "t"}}},
            {"data": {"name": "names"}, "mark": {"type": "text", "align": "left", "baseline": "middle", "font": "Noto Sans", "fontSize": 13, "fontWeight": "bold", "color": "#111111"}, "encoding": {"text": {"field": "t"}}},
            {"data": {"name": "breaks"}, "transform": [{"filter": "datum.panel === 'A2'"}], "mark": {"type": "text", "align": "center", "baseline": "middle", "font": "Liberation Sans", "fontSize": 20, "fontWeight": "bold", "color": "#111111"}, "encoding": {"text": {"field": "t"}}}
          ]
        },
        {
          "width": 330,
          "height": 528,
          "encoding": {
            "x": {"field": "wn", "type": "quantitative", "scale": {"domain": [1297, 435], "nice": false, "zero": false},
              "axis": {"values": [1200, 1100, 1000, 900, 800, 700, 600, 500], "format": "d", "title": "Hullámszám (cm⁻¹)", "titleX": 0, "titleY": 50, "titleAlign": "center", "titleBaseline": "alphabetic"}},
            "y": {"field": "v", "type": "quantitative", "scale": {"domain": [0, 528], "nice": false, "zero": false}, "axis": null}
          },
          "layer": [
            {"data": {"name": "A3"}, "mark": {"type": "line", "strokeWidth": 2.2, "interpolate": "monotone"},
              "encoding": {"color": {"field": "s", "type": "nominal", "legend": null, "scale": {"domain": ["SHNT", "SHNT-400-30", "SHNT-400-45", "SHNT-400-60", "SHNT-400-90", "SHNT-400-105", "SHNT-400-180", "SHNT-200-300"], "range": ["#111111", "#c41a1a", "#c41a1a", "#c41a1a", "#c41a1a", "#c41a1a", "#c41a1a", "#f08a24"]}}}},
            {"data": {"name": "rules"}, "transform": [{"filter": "datum.panel === 'A3'"}], "mark": {"type": "rule", "strokeDash": [2.5, 2.5], "strokeWidth": 2, "color": "#111111"}, "encoding": {"y2": {"datum": 0}}},
            {"data": {"name": "peaks"}, "transform": [{"filter": "datum.panel === 'A3'"}], "mark": {"type": "text", "angle": 270, "align": "left", "baseline": "middle", "font": "Liberation Sans", "fontSize": 17, "color": "#111111"}, "encoding": {"text": {"field": "t"}}},
            {"data": {"name": "breaks"}, "transform": [{"filter": "datum.panel === 'A3'"}], "mark": {"type": "text", "align": "center", "baseline": "middle", "font": "Liberation Sans", "fontSize": 20, "fontWeight": "bold", "color": "#111111"}, "encoding": {"text": {"field": "t"}}}
          ]
        }
      ]
    },
    {
      "bounds": "flush",
      "spacing": 6,
      "hconcat": [
        {
          "width": 178,
          "height": 528,
          "encoding": {
            "x": {"field": "wn", "type": "quantitative", "scale": {"domain": [3752, 3396], "nice": false, "zero": false},
              "axis": {"values": [3750, 3700, 3650, 3600, 3550, 3500, 3450, 3400], "format": "d", "labelExpr": "indexof([3700, 3600, 3500], datum.value) >= 0 ? datum.label : ''", "title": "Hullámszám (cm⁻¹)", "titleX": 162, "titleY": 50, "titleAlign": "center", "titleBaseline": "alphabetic"}},
            "y": {"field": "v", "type": "quantitative", "scale": {"domain": [0, 528], "nice": false, "zero": false},
              "axis": {"title": "Intenzitás (változó egység)", "domain": false, "ticks": false, "labels": false, "titleX": -4, "titleY": 393}}
          },
          "layer": [
            {"data": {"name": "B1"}, "mark": {"type": "line", "strokeWidth": 2.2, "interpolate": "monotone"},
              "encoding": {"color": {"field": "s", "type": "nominal", "legend": null, "scale": {"domain": ["SHNT", "SHNT-400-30", "SHNT-400-45", "SHNT-400-60", "SHNT-400-90", "SHNT-400-105", "SHNT-400-180", "SHNT-200-300"], "range": ["#111111", "#c41a1a", "#c41a1a", "#c41a1a", "#c41a1a", "#c41a1a", "#c41a1a", "#f08a24"]}}}},
            {"data": {"name": "rules"}, "transform": [{"filter": "datum.panel === 'B1'"}], "mark": {"type": "rule", "strokeDash": [2.5, 2.5], "strokeWidth": 2, "color": "#111111"}, "encoding": {"y2": {"datum": 0}}},
            {"data": {"name": "peaks"}, "transform": [{"filter": "datum.panel === 'B1'"}], "mark": {"type": "text", "angle": 270, "align": "left", "baseline": "middle", "font": "Liberation Sans", "fontSize": 17, "color": "#111111"}, "encoding": {"text": {"field": "t"}}},
            {"data": {"name": "letters"}, "transform": [{"filter": "datum.panel === 'B1'"}], "mark": {"type": "text", "align": "left", "baseline": "middle", "font": "Liberation Sans", "fontSize": 38, "fontWeight": "bold", "color": "#000000"}, "encoding": {"text": {"field": "t"}}},
            {"data": {"name": "notesB"}, "mark": {"type": "text", "align": "left", "baseline": "middle", "font": "Noto Sans", "fontSize": 13.5, "color": "#111111"}, "encoding": {"text": {"field": "t"}}},
            {"data": {"values": [{"t": "200 °C", "wn": 3418, "v": 225}]}, "mark": {"type": "text", "align": "center", "baseline": "middle", "font": "Liberation Sans", "fontSize": 22, "fontWeight": "bold", "color": "#111111"}, "encoding": {"text": {"field": "t"}}},
            {"data": {"name": "breaks"}, "transform": [{"filter": "datum.panel === 'B1'"}], "mark": {"type": "text", "align": "center", "baseline": "middle", "font": "Liberation Sans", "fontSize": 20, "fontWeight": "bold", "color": "#111111"}, "encoding": {"text": {"field": "t"}}}
          ]
        },
        {
          "width": 115,
          "height": 528,
          "encoding": {
            "x": {"field": "wn", "type": "quantitative", "scale": {"domain": [1906, 1316], "nice": false, "zero": false},
              "axis": {"values": [1900, 1850, 1800, 1750, 1700, 1650, 1600, 1550, 1500, 1450, 1400, 1350], "format": "d", "labelExpr": "indexof([1800, 1600, 1400], datum.value) >= 0 ? datum.label : ''", "title": null}},
            "y": {"field": "v", "type": "quantitative", "scale": {"domain": [0, 528], "nice": false, "zero": false}, "axis": null}
          },
          "layer": [
            {"data": {"name": "B2"}, "mark": {"type": "line", "strokeWidth": 2.2, "interpolate": "monotone"},
              "encoding": {"color": {"field": "s", "type": "nominal", "legend": null, "scale": {"domain": ["SHNT", "SHNT-400-30", "SHNT-400-45", "SHNT-400-60", "SHNT-400-90", "SHNT-400-105", "SHNT-400-180", "SHNT-200-300"], "range": ["#111111", "#c41a1a", "#c41a1a", "#c41a1a", "#c41a1a", "#c41a1a", "#c41a1a", "#f08a24"]}}}},
            {"data": {"name": "rules"}, "transform": [{"filter": "datum.panel === 'B2'"}], "mark": {"type": "rule", "strokeDash": [2.5, 2.5], "strokeWidth": 2, "color": "#111111"}, "encoding": {"y2": {"datum": 0}}},
            {"data": {"name": "peaks"}, "transform": [{"filter": "datum.panel === 'B2'"}], "mark": {"type": "text", "angle": 270, "align": "left", "baseline": "middle", "font": "Liberation Sans", "fontSize": 17, "color": "#111111"}, "encoding": {"text": {"field": "t"}}},
            {"data": {"values": [{"t": "4x nagyítás", "wn": 1583, "v": 191}]}, "mark": {"type": "text", "align": "center", "baseline": "middle", "font": "Noto Sans", "fontSize": 12.5, "fontWeight": "bold", "color": "#111111"}, "encoding": {"text": {"field": "t"}}},
            {"data": {"name": "breaks"}, "transform": [{"filter": "datum.panel === 'B2'"}], "mark": {"type": "text", "align": "center", "baseline": "middle", "font": "Liberation Sans", "fontSize": 20, "fontWeight": "bold", "color": "#111111"}, "encoding": {"text": {"field": "t"}}}
          ]
        }
      ]
    }
  ]
}
